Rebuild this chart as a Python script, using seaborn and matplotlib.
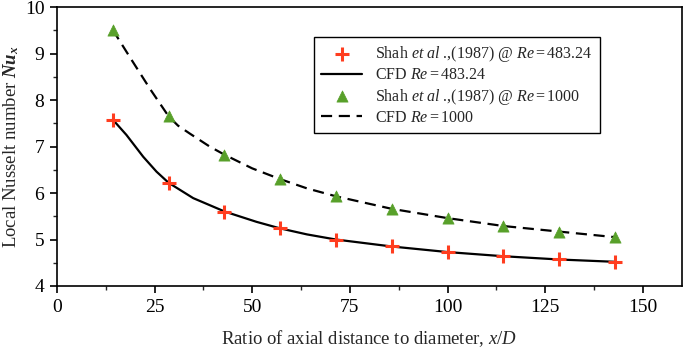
import numpy as np
import pandas as pd
import matplotlib
matplotlib.use("Agg")
import matplotlib.pyplot as plt
from matplotlib.ticker import MultipleLocator
import seaborn as sns

# experimental points (Shah et al. 1987)
shah_x = [14.3, 28.6, 42.9, 57.1, 71.4, 85.7, 100.0, 114.3, 128.6, 142.9]
shah_483 = [7.58, 6.22, 5.60, 5.25, 5.00, 4.85, 4.73, 4.64, 4.57, 4.52]
shah_1000 = [9.51, 7.65, 6.81, 6.30, 5.93, 5.66, 5.46, 5.29, 5.17, 5.05]

# CFD curves
cfd483_x = [14.3, 17.8, 22.1, 25.5, 28.6, 34.9, 43.0, 51.1, 57.1, 64.0, 71.4, 85.7, 100.0, 114.3, 128.6, 142.9]
cfd483_y = [7.58, 7.25, 6.78, 6.46, 6.22, 5.89, 5.60, 5.38, 5.24, 5.11, 5.00, 4.85, 4.73, 4.64, 4.57, 4.52]
cfd1000_x = [14.3, 19.0, 24.0, 28.6, 31.0, 34.0, 39.1, 43.0, 50.0, 57.1, 64.0, 71.4, 85.7, 100.0, 114.3, 128.6, 142.9]
cfd1000_y = [9.51, 8.88, 8.22, 7.65, 7.45, 7.28, 7.00, 6.82, 6.53, 6.30, 6.10, 5.93, 5.66, 5.46, 5.29, 5.17, 5.05]

lab_s483 = r"Shah $\mathit{et\ al}$ .,(1987) @ $\mathit{Re{=}483.24}$"
lab_c483 = r"CFD $\mathit{Re{=}483.24}$"
lab_s1000 = r"Shah $\mathit{et\ al}$ .,(1987) @ $\mathit{Re{=}1000}$"
lab_c1000 = r"CFD $\mathit{Re{=}1000}$"

sns.set_style("ticks")
plt.rcParams['font.family'] = ['Liberation Serif', 'DejaVu Serif']
plt.rcParams['mathtext.fontset'] = 'custom'
plt.rcParams['mathtext.rm'] = 'Liberation Serif'
plt.rcParams['mathtext.it'] = 'Liberation Serif:italic'
plt.rcParams['mathtext.bf'] = 'Liberation Serif:bold'
plt.rcParams['mathtext.bfit'] = 'Liberation Serif:bold:italic'

fig = plt.figure(figsize=(6.85, 3.52), dpi=100)
ax = fig.add_axes([0.083, 0.1875, 0.9126, 0.7925])

sns.scatterplot(x=shah_x, y=shah_483, ax=ax, marker='+', s=90, color='#ff3d1f',
                linewidth=2.2, label=lab_s483, zorder=3)
sns.lineplot(x=cfd483_x, y=cfd483_y, ax=ax, color='black', linewidth=1.6,
             label=lab_c483, sort=False, zorder=2)
sns.scatterplot(x=shah_x, y=shah_1000, ax=ax, marker='^', s=65, color='#58a02a',
                edgecolor='#58a02a', linewidth=0.5, label=lab_s1000, zorder=3)
sns.lineplot(x=cfd1000_x, y=cfd1000_y, ax=ax, color='black', linewidth=1.6,
             label=lab_c1000, sort=False, zorder=2)
ax.lines[-1].set_dashes([5, 3])

ax.set_xlim(0, 160)
ax.set_ylim(4, 10)
ax.xaxis.set_major_locator(MultipleLocator(25))
ax.xaxis.set_minor_locator(MultipleLocator(12.5))
ax.yaxis.set_major_locator(MultipleLocator(1))
ax.yaxis.set_minor_locator(MultipleLocator(0.5))
ax.set_xticks([0, 25, 50, 75, 100, 125, 150])
ax.tick_params(which='major', direction='out', length=5, width=1.2, labelsize=14,
               top=False, right=False, colors='black', pad=4)
ax.tick_params(which='minor', direction='out', length=3, width=1.0, top=False, right=False)
for sp in ax.spines.values():
    sp.set_linewidth(1.2)
    sp.set_color('black')

ax.set_xlabel(r"Ratio of axial distance to diameter, $\mathit{x/D}$", fontsize=13.5, labelpad=9)
ax.set_ylabel(r"Local Nusselt number $\mathbfit{Nu}_{\mathbfit{x}}$", fontsize=13.5, labelpad=3)

leg = ax.legend(loc='upper left', bbox_to_anchor=(0.398, 0.921), fontsize=11.5,
                frameon=True, fancybox=False, edgecolor='black', framealpha=1,
                handlelength=2.6, borderpad=0.45, labelspacing=0.2, handletextpad=0.8)
leg.get_frame().set_linewidth(1.0)

fig.savefig("out.png", dpi=100)
